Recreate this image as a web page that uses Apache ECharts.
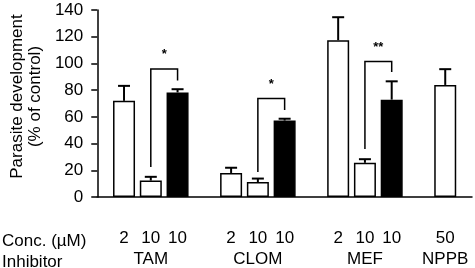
<!DOCTYPE html>
<html>
<head>
<meta charset="utf-8">
<script src="https://cdn.jsdelivr.net/npm/echarts@6/dist/echarts.min.js"></script>
<style>html,body{margin:0;padding:0;background:#fff}#c{width:475px;height:268px}</style>
</head>
<body>
<div id="c"></div>
<script>
// ---- data ----
const barPositions = [1, 2, 3, 5, 6, 7, 9, 10, 11, 13];
const concLabels = ['2', '10', '10', '2', '10', '10', '2', '10', '10', '50'];
const barValues = [72, 12.3, 78.3, 18, 11.2, 57.2, 117.4, 25.6, 72.9, 83.9];
const errTops = [83.2, 15.1, 80.7, 21.9, 13.8, 58.6, 134.6, 28.3, 86.6, 95.7];
const barFilled = [false, false, true, false, false, true, false, false, true, false];
const inhibitorPositions = [2, 6, 10, 13];
const inhibitorLabels = ['TAM', 'CLOM', 'MEF', 'NPPB'];
const yTicks = [0, 20, 40, 60, 80, 100, 120, 140];
// significance brackets: [xLeft, xRight, leftLow, top, rightLow]
const brackets = [
  [2, 3, 22.4, 95.9, 87.3],
  [6, 7, 18.7, 73.8, 65.2],
  [10, 11, 35.9, 101.5, 93.5]
];
const bracketLabels = ['*', '*', '**'];

const font = 'Liberation Sans, Arial, sans-serif';
const fs = 17;
const chart = echarts.init(document.getElementById('c'), null, {renderer: 'canvas'});

const labelMap = {};
barPositions.forEach((p, i) => labelMap[p] = concLabels[i]);
const inhMap = {};
inhibitorPositions.forEach((p, i) => inhMap[p] = inhibitorLabels[i]);

chart.setOption({
  animation: false,
  grid: {left: 92, right: 0, top: 10, bottom: 67.5},
  xAxis: [{
    type: 'value', min: 0, max: 14, interval: 1,
    axisLine: {show: true, lineStyle: {color: '#000', width: 1.5}},
    axisTick: {show: false},
    splitLine: {show: false},
    axisLabel: {
      margin: 33, color: '#000', fontSize: fs, fontFamily: font,
      showMinLabel: true, showMaxLabel: true,
      formatter: v => labelMap[v] || ''
    }
  }, {
    type: 'value', min: 0, max: 14, interval: 1, position: 'bottom',
    axisLine: {show: false}, axisTick: {show: false}, splitLine: {show: false},
    axisLabel: {
      margin: 54, color: '#000', fontSize: fs, fontFamily: font,
      showMinLabel: true, showMaxLabel: true,
      formatter: v => inhMap[v] || ''
    }
  }],
  yAxis: {
    type: 'value', min: 0, max: 140, interval: 20,
    name: 'Parasite development\n(% of control)',
    nameLocation: 'middle', nameGap: 52,
    nameTextStyle: {color: '#000', fontSize: fs, fontFamily: font, lineHeight: 18, padding: [0, 0, 0, 14]},
    axisLine: {show: true, lineStyle: {color: '#000', width: 1.5}},
    axisTick: {show: true, inside: false, length: 6, lineStyle: {color: '#000', width: 1.5}},
    splitLine: {show: false},
    axisLabel: {margin: 14, color: '#000', fontSize: fs, fontFamily: font,
      formatter: v => yTicks.includes(v) ? String(v) : ''}
  },
  graphic: [
    {type: 'text', left: 2, top: 233, style: {text: 'Conc. (\u00b5M)', fill: '#000', font: fs + 'px ' + font}},
    {type: 'text', left: 2, top: 254, style: {text: 'Inhibitor', fill: '#000', font: fs + 'px ' + font}}
  ],
  series: [{
    type: 'bar',
    barWidth: 22,
    data: barPositions.map((p, i) => ({
      value: [p, barValues[i]],
      itemStyle: {color: barFilled[i] ? '#000' : '#fff', borderColor: '#000', borderWidth: 1.5}
    })),
    z: 2
  }, {
    type: 'custom',
    data: barPositions.map((p, i) => [p, barValues[i], errTops[i]]),
    renderItem: (params, api) => {
      const a = api.coord([api.value(0), api.value(1)]);
      const b = api.coord([api.value(0), api.value(2)]);
      const st = {stroke: '#000', lineWidth: 2};
      return {type: 'group', children: [
        {type: 'line', shape: {x1: a[0], y1: a[1], x2: b[0], y2: b[1]}, style: st},
        {type: 'line', shape: {x1: b[0] - 6, y1: b[1], x2: b[0] + 6, y2: b[1]}, style: st}
      ]};
    },
    z: 3
  }, {
    type: 'custom',
    data: brackets,
    renderItem: (params, api) => {
      const xl = api.value(0), xr = api.value(1);
      const p1 = api.coord([xl, api.value(2)]);
      const p2 = api.coord([xl, api.value(3)]);
      const p3 = api.coord([xr, api.value(3)]);
      const p4 = api.coord([xr, api.value(4)]);
      return {type: 'group', children: [
        {type: 'polyline', shape: {points: [p1, p2, p3, p4]}, style: {stroke: '#000', lineWidth: 1.5, fill: null}},
        {type: 'text', x: (p2[0] + p3[0]) / 2, y: p2[1] - 14,
          style: {text: bracketLabels[params.dataIndex], fill: '#000', font: 'bold 13px ' + font, align: 'center', verticalAlign: 'middle'}}
      ]};
    },
    z: 4
  }]
});
</script>
</body>
</html>
